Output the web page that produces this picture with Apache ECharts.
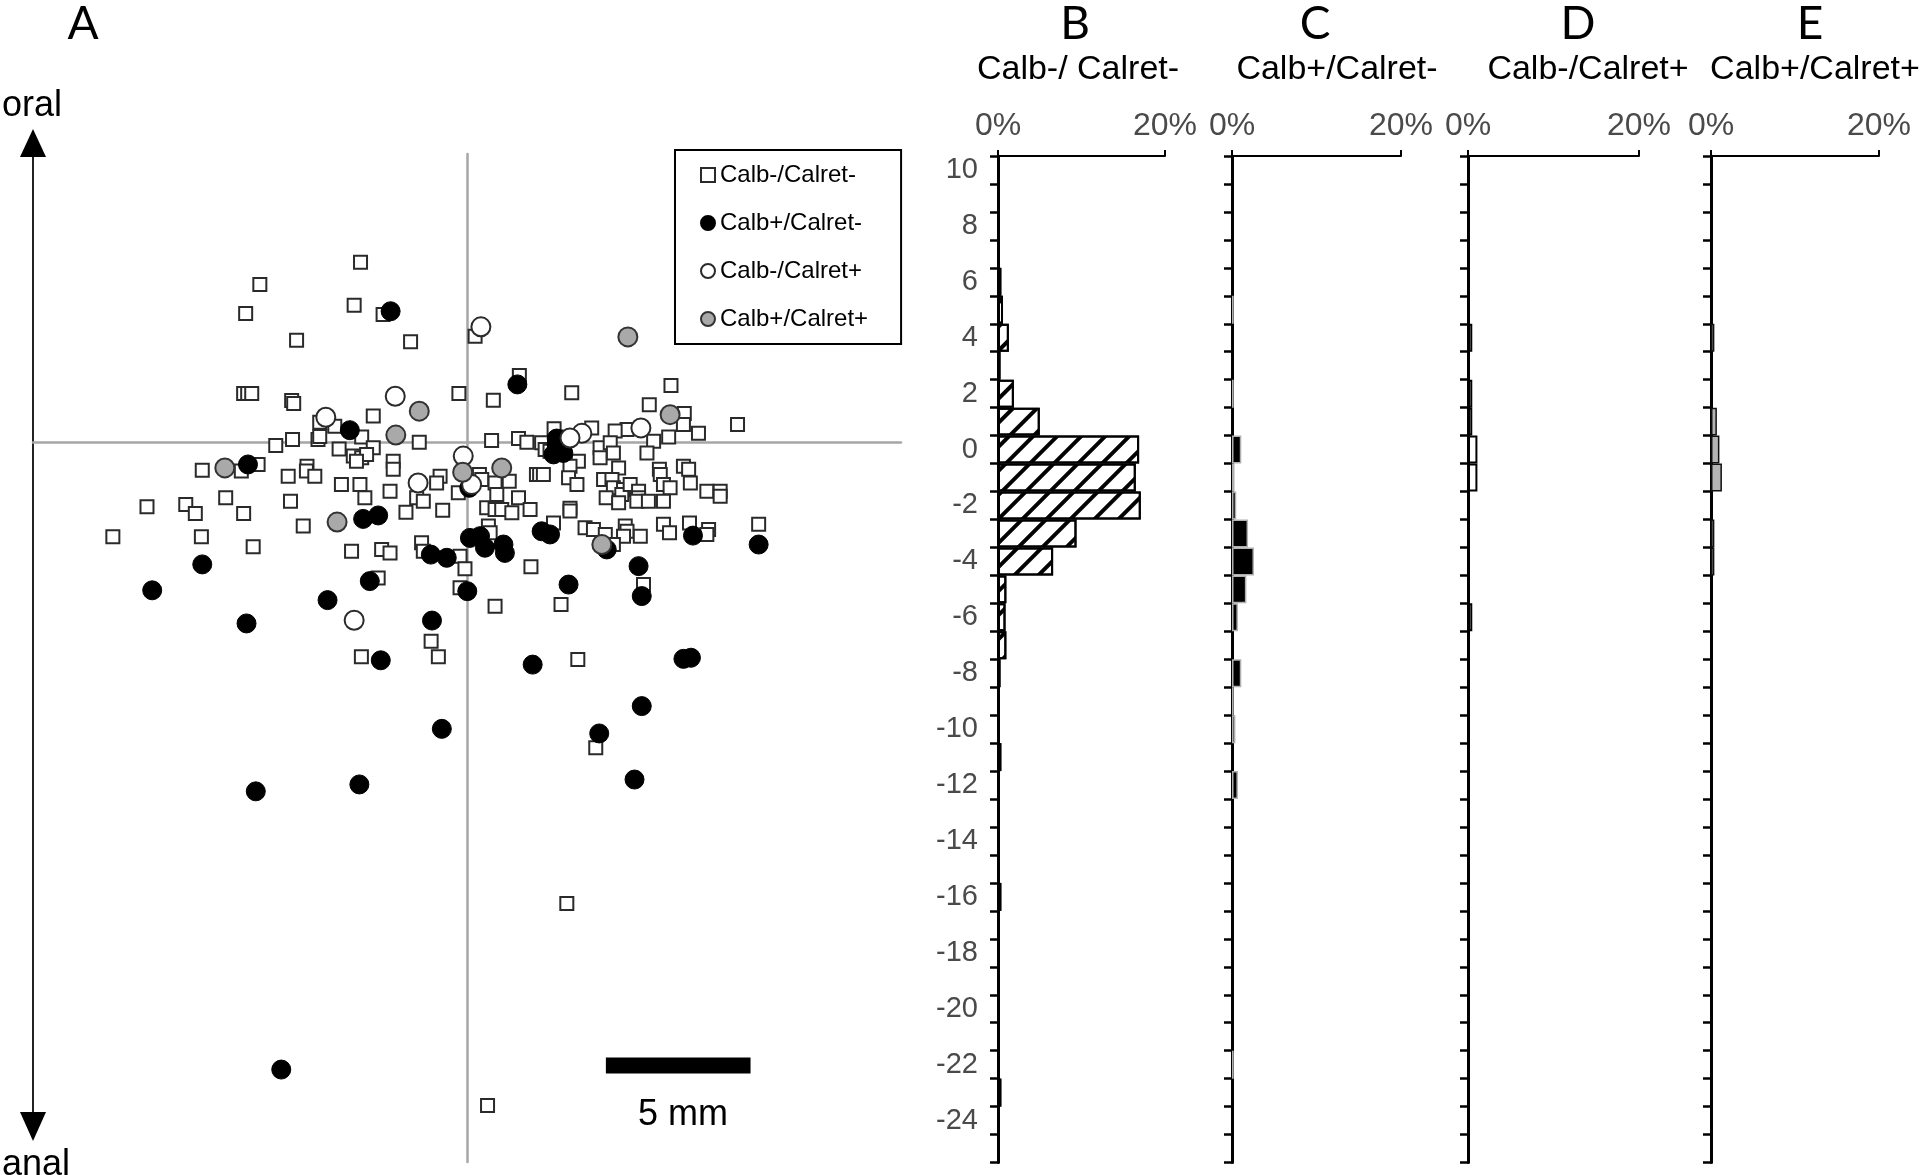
<!DOCTYPE html>
<html>
<head>
<meta charset="utf-8">
<script src="https://cdn.jsdelivr.net/npm/echarts@6/dist/echarts.min.js"></script>
<style>
html,body{margin:0;padding:0;background:#fff;}
#chart{width:1922px;height:1175px;}
</style>
</head>
<body>
<div id="chart"></div>
<script>
// ---------- DATA ----------
// Scatter (mm): [x, y]
const calbNegCalretNeg = [
 [-3.68,6.24],[-7.16,5.47],[-7.65,4.46],[-3.90,4.75],[-2.90,4.43],[-5.89,3.53],[-1.95,3.48],
 [-7.72,1.68],[-7.58,1.68],[-7.44,1.68],[-6.06,1.44],[-5.99,1.34],[-5.09,0.69],[-4.57,0.55],[-3.24,0.90],
 [0.28,3.67],[1.81,2.31],[-0.28,1.68],[0.91,1.45],[3.62,1.71],[7.05,1.96],[6.30,1.29],[7.51,0.99],
 [7.48,0.61],[9.35,0.61],[8.00,0.30],[5.53,0.43],[5.12,0.38],[4.31,0.49],[3.01,0.46],[6.97,0.17],
 [0.85,0.05],[1.78,0.12],[2.07,-0.01],[2.58,-0.03],[2.70,-0.26],[2.87,-0.32],[6.45,0.03],
 [-3.64,0.17],[-6.03,0.09],[-5.15,0.09],[-5.09,0.19],[-6.61,-0.12],[-1.65,-0.01],[-4.42,-0.24],[-3.24,-0.20],
 [-3.93,-0.49],[-3.64,-0.55],[-3.47,-0.43],[-3.82,-0.67],[-9.15,-0.98],[-7.22,-0.78],[-7.80,-1.01],[-6.18,-1.19],
 [-5.53,-0.84],[-5.55,-1.01],[-5.26,-1.19],[-4.34,-1.48],[-3.70,-1.48],[-3.53,-1.94],[-2.66,-1.71],[-2.55,-0.67],
 [-2.55,-0.95],[-1.74,-1.94],[-1.51,-2.06],[-2.11,-2.44],[-11.06,-2.25],[-9.72,-2.17],[-9.39,-2.48],[-8.34,-1.94],
 [-7.72,-2.48],[-6.10,-2.06],[-5.66,-2.92],[-12.24,-3.29],[-9.18,-3.29],[-7.39,-3.64],[-3.99,-3.79],[-2.95,-3.73],
 [-2.66,-3.85],[-1.57,-3.50],[-1.51,-3.79],[-3.07,-4.72],
 [3.85,-0.67],[3.56,-0.84],[3.51,-1.24],[3.80,-1.48],[4.60,-0.20],[4.60,-0.55],[4.95,-0.03],[5.06,-0.38],
 [5.24,-0.90],[4.72,-1.30],[5.01,-1.30],[5.06,-1.59],[5.41,-1.65],[5.35,-1.82],[4.81,-1.94],[5.24,-2.11],
 [5.64,-1.48],[5.93,-1.71],[5.93,-1.94],[5.87,-2.06],[6.27,-2.06],[6.22,-0.38],[6.65,-0.95],[6.68,-1.13],
 [6.79,-1.48],[7.02,-1.59],[6.79,-2.06],[7.48,-0.84],[7.66,-0.95],[7.72,-1.42],[8.29,-1.71],[8.75,-1.71],
 [8.75,-1.88],[0.43,-1.13],[0.51,-1.30],[0.97,-1.42],[1.46,-1.36],[-0.93,-1.19],[-1.05,-1.42],[-0.30,-1.76],
 [1.03,-1.82],[1.78,-1.94],[2.40,-1.13],[2.51,-1.13],[2.64,-1.13],[-0.84,-2.37],[0.68,-2.28],[0.97,-2.34],
 [1.20,-2.34],[1.55,-2.46],[2.18,-2.34],[3.56,-2.30],[3.56,-2.40],[2.99,-2.81],[4.08,-2.98],[4.37,-3.04],
 [4.78,-3.21],[5.47,-2.92],[5.53,-3.10],[5.41,-3.27],[5.99,-3.27],[6.79,-2.86],[7.00,-3.15],[7.69,-2.81],
 [8.35,-3.04],[8.29,-3.21],[10.08,-2.86],[0.74,-2.92],[0.80,-3.15],[5.06,-3.56],[-0.24,-3.97],[-0.07,-4.40],
 [2.21,-4.33],[6.10,-4.95],[-0.24,-5.06],[0.97,-5.70],[3.25,-5.64],
 [-1.24,-6.92],[-3.65,-7.46],[-0.99,-7.46],[3.83,-7.55],[4.45,-10.62],[3.45,-16.02],[0.71,-23.04]
];
const calbPosCalretNeg = [
 [-2.64,4.54],[-4.05,0.41],[1.74,2.00],[3.10,0.12],[3.10,-0.09],[3.28,0.09],[3.33,-0.38],[2.99,-0.43],
 [-7.57,-0.78],[-3.59,-2.67],[-3.07,-2.55],[-1.25,-3.91],[-9.15,-4.25],[-10.88,-5.15],[-3.36,-4.83],[-4.82,-5.49],
 [-7.62,-6.30],[-1.21,-6.20],[0.08,-1.59],[2.58,-3.10],[2.87,-3.21],[0.10,-3.33],[0.45,-3.27],[0.62,-3.67],
 [1.26,-3.56],[1.31,-3.85],[4.83,-3.73],[7.81,-3.25],[10.08,-3.56],[-0.70,-4.02],[5.93,-4.31],[6.04,-5.35],
 [3.51,-4.95],[0.01,-5.18],[-2.98,-7.58],[2.27,-7.73],[7.48,-7.53],[7.74,-7.49],[6.04,-9.17],[-0.87,-9.96],
 [4.57,-10.12],[5.79,-11.72],[-3.72,-11.89],[-7.30,-12.13],[-6.42,-21.79]
];
const calbNegCalretPos = [
 [0.48,4.00],[-2.48,1.59],[-4.88,0.86],[6.01,0.49],[3.97,0.30],[3.56,0.14],[-0.13,-0.49],[0.16,-1.48],
 [-1.69,-1.42],[-3.90,-6.19]
];
const calbPosCalretPos = [
 [5.56,3.65],[-1.65,1.07],[-2.46,0.24],[7.02,0.95],[-8.37,-0.90],[-0.15,-1.05],[1.20,-0.90],[-4.49,-2.78],
 [4.66,-3.56]
];
const scaleBarX = [4.8, 9.8];
const scaleBarY = -21.65;

// Histograms: distance bins (mm), top to bottom
const binLabels = ['10','9','8','7','6','5','4','3','2','1','0','-1','-2','-3','-4','-5','-6','-7','-8','-9',
 '-10','-11','-12','-13','-14','-15','-16','-17','-18','-19','-20','-21','-22','-23','-24','-25'];
const histB = [0,0,0,0,0.4,0.6,1.3,0.3,1.9,5.0,16.9,16.5,17.1,9.4,6.6,1.0,0.9,1.0,0.3,0,0,0.4,0,0,0,0,0.4,0,0,0,0,0,0,0.4,0,0];
const histC = [0,0,0,0,0,0.2,0,0,0.2,0,1.1,0.3,0.5,1.9,2.6,1.7,0.7,0,1.1,0.2,0.4,0,0.7,0,0,0,0,0,0,0,0,0,0.2,0,0,0];
const histD = [0,0,0,0,0,0,0.5,0,0.5,0.5,1.1,1.1,0,0,0,0,0.5,0,0,0,0,0,0,0,0,0,0,0,0,0,0,0,0,0,0,0];
const histE = [0,0,0,0,0,0,0.4,0,0,0.7,1.0,1.3,0,0.4,0.4,0,0,0,0,0,0,0,0,0,0,0,0,0,0,0,0,0,0,0,0,0];
const pctTicks = [0, 20];

const seriesNames = ['Calb-/Calret-','Calb+/Calret-','Calb-/Calret+','Calb+/Calret+'];
const panelTitles = ['Calb-/ Calret-','Calb+/Calret-','Calb-/Calret+','Calb+/Calret+'];

// ---------- CHART ----------
const chart = echarts.init(document.getElementById('chart'), null, {renderer:'canvas'});
const FONT = 'Liberation Sans, Arial, sans-serif';

const histGrids = [
  {left:998, width:167},
  {left:1232, width:169},
  {left:1468, width:171},
  {left:1711, width:168}
];
const histData = [histB, histC, histD, histE];
const histStyles = [
  {color:'#fff', borderColor:'#000', borderWidth:2,
   decal:{symbol:'rect', symbolSize:1, color:'#000', dashArrayX:[1,0], dashArrayY:[4,13], rotation:-Math.PI/4}},
  {color:'#000', borderColor:'#b0b0b0', borderWidth:1.5},
  {color:'#fff', borderColor:'#000', borderWidth:2},
  {color:'#b4b4b4', borderColor:'#111', borderWidth:1.5}
];

const grids = [{left:33, top:154, width:868, height:1008}];
const xAxes = [{
  gridIndex:0, type:'value', min:-15, max:15,
  axisLine:{show:true, onZero:true, lineStyle:{color:'#a6a6a6', width:2.5}},
  axisTick:{show:false}, axisLabel:{show:false}, splitLine:{show:false}
}];
const yAxes = [{
  gridIndex:0, type:'value', min:-25, max:10,
  axisLine:{show:true, onZero:true, lineStyle:{color:'#a6a6a6', width:2.5}},
  axisTick:{show:false}, axisLabel:{show:false}, splitLine:{show:false}
}];
const series = [];

series.push({
  name:'scalebar', type:'line', xAxisIndex:0, yAxisIndex:0, silent:true, symbol:'none',
  data:[[scaleBarX[0], scaleBarY],[scaleBarX[1], scaleBarY]],
  lineStyle:{color:'#000', width:16, cap:'butt'}, z:1
});
series.push({
  name:seriesNames[0], type:'scatter', xAxisIndex:0, yAxisIndex:0, data:calbNegCalretNeg,
  symbol:'rect', symbolSize:13,
  itemStyle:{color:'#fff', borderColor:'#2a2a2a', borderWidth:2, opacity:1}, z:2
});
series.push({
  name:seriesNames[1], type:'scatter', xAxisIndex:0, yAxisIndex:0, data:calbPosCalretNeg,
  symbol:'circle', symbolSize:19,
  itemStyle:{color:'#000', borderColor:'#000', borderWidth:1, opacity:1}, z:3
});
series.push({
  name:seriesNames[2], type:'scatter', xAxisIndex:0, yAxisIndex:0, data:calbNegCalretPos,
  symbol:'circle', symbolSize:19,
  itemStyle:{color:'#fff', borderColor:'#2a2a2a', borderWidth:2, opacity:1}, z:4
});
series.push({
  name:seriesNames[3], type:'scatter', xAxisIndex:0, yAxisIndex:0, data:calbPosCalretPos,
  symbol:'circle', symbolSize:19,
  itemStyle:{color:'#a9a9a9', borderColor:'#333', borderWidth:2, opacity:1}, z:4
});

histGrids.forEach((g, i) => {
  const gi = i + 1;
  grids.push({left:g.left, width:g.width, top:156, height:1006.5});
  xAxes.push({
    gridIndex:gi, type:'value', position:'top', min:pctTicks[0], max:pctTicks[1], interval:pctTicks[1]-pctTicks[0],
    axisLine:{show:true, lineStyle:{color:'#000', width:2}},
    axisTick:{show:true, length:6, lineStyle:{color:'#000', width:2}},
    axisLabel:{show:true, formatter:'{value}%', color:'#4a4a4a', fontSize:32, fontFamily:FONT, margin:14},
    splitLine:{show:false}
  });
  yAxes.push({
    gridIndex:gi, type:'category', data:binLabels, inverse:true,
    axisLine:{show:true, onZero:false, lineStyle:{color:'#000', width:3}},
    axisTick:{show:true, interval:0, alignWithLabel:false, length:8, lineStyle:{color:'#000', width:2.5}},
    axisLabel:{show:i===0, interval:1, color:'#4a4a4a', fontSize:29, fontFamily:FONT, margin:20},
    splitLine:{show:false}
  });
  series.push({
    name:'hist'+i, type:'bar', xAxisIndex:gi, yAxisIndex:gi,
    data:histData[i].map(v => v === 0 ? null : v),
    barWidth:'100%', barCategoryGap:'0%',
    itemStyle:histStyles[i], z:1, silent:true
  });
});

const txt = (t, x, y, size, family, align, color) => ({
  type:'text', x:x, y:y, silent:true,
  style:{text:t, fill:color||'#000', font:size+'px '+(family||FONT), align:align||'center', verticalAlign:'middle'}
});

const LET = 'Lato, '+FONT;
const graphic = [
  txt('A', 83, 24, 46, LET),
  txt('B', 1075, 24, 46, LET),
  txt('C', 1315, 24, 46, LET),
  txt('D', 1578, 24, 46, LET),
  txt('E', 1810, 24, 46, LET),
  txt(panelTitles[0], 1078, 70, 34),
  txt(panelTitles[1], 1337, 70, 34),
  txt(panelTitles[2], 1588, 70, 34),
  txt(panelTitles[3], 1815, 70, 34),
  txt('oral', 32, 106, 36),
  txt('anal', 36, 1165, 36),
  txt('5 mm', 683, 1115, 36),
  {type:'line', silent:true, shape:{x1:33, y1:150, x2:33, y2:1118}, style:{stroke:'#222', lineWidth:2}},
  {type:'polygon', silent:true, shape:{points:[[33,129],[20,157],[46,157]]}, style:{fill:'#000'}},
  {type:'polygon', silent:true, shape:{points:[[33,1141],[20,1112],[46,1112]]}, style:{fill:'#000'}}
];

chart.setOption({
  animation:false,
  backgroundColor:'#fff',
  grid:grids, xAxis:xAxes, yAxis:yAxes, series:series,
  legend:{
    show:true, orient:'vertical', left:675, top:150,
    data:[
      {name:seriesNames[0], icon:'rect'},
      {name:seriesNames[1], icon:'circle'},
      {name:seriesNames[2], icon:'circle'},
      {name:seriesNames[3], icon:'circle'}
    ],
    itemWidth:14, itemHeight:14, itemGap:24,
    padding:[13, 33, 13, 25],
    borderColor:'#000', borderWidth:2, backgroundColor:'#fff',
    textStyle:{fontSize:24, color:'#000', fontFamily:FONT},
    selectedMode:false
  },
  graphic:graphic
});
</script>
</body>
</html>
